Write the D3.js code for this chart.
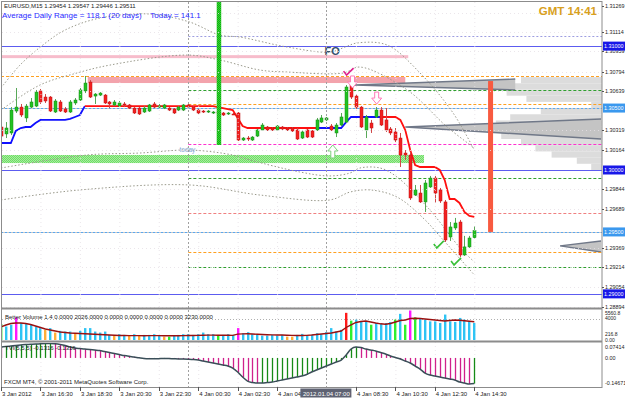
<!DOCTYPE html>
<html><head><meta charset="utf-8">
<script src="https://cdn.jsdelivr.net/npm/d3@7"></script>
<style>
html,body{margin:0;padding:0;background:#fff;}
svg{display:block;font-family:"Liberation Sans",Arial,sans-serif;}
</style></head><body>
<svg id="c" width="625" height="398"></svg>
<script>
// ---------------- DATA ----------------
const symbolTitle = "EURUSD,M15  1.29454 1.29547 1.29446 1.29511";
const adrText = "Average Daily Range = 118.1 (20 days)    Today = 141.1";
const clockText = "GMT 14:41";
const volHeader = "Better Volume 1.4 0.0000 2026.0000 0.0000 0.0000 0.0000 0.0000 3230.0000";
const tviHeader = "TVI(5,5,5) -0.1316 -0.1316";
const copyright = "FXCM MT4, \u00a9 2001-2011 MetaQuotes Software Corp.";

const open = [1.30347,1.30291,1.30299,1.30476,1.30508,1.30420,1.30508,1.30516,1.30638,1.30589,
1.30589,1.30468,1.30549,1.30492,1.30468,1.30541,1.30565,1.30638,1.30710,1.30597,
1.30605,1.30605,1.30549,1.30525,1.30516,1.30533,1.30525,1.30500,1.30500,1.30468,
1.30476,1.30533,1.30508,1.30500,1.30500,1.30492,1.30484,1.30484,1.30525,1.30508,
1.30484,1.30476,1.30468,1.30460,1.30468,1.30460,1.30452,1.30452,1.30460,1.30242,
1.30258,1.30242,1.30274,1.30323,1.30347,1.30339,1.30323,1.30347,1.30339,1.30339,
1.30323,1.30258,1.30323,1.30315,1.30323,1.30387,1.30404,1.30355,1.30299,1.30363,
1.30387,1.30686,1.30597,1.30508,1.30323,1.30379,1.30428,1.30484,1.30404,1.30331,
1.30307,1.30258,1.30137,1.30121,1.29798,1.29814,1.29742,1.29863,1.29935,1.29839,
1.29742,1.29459,1.29532,1.29580,1.29314,1.29379,1.29454];
const high = [1.30371,1.30387,1.30508,1.30662,1.30533,1.30533,1.30581,1.30646,1.30654,1.30613,
1.30597,1.30573,1.30565,1.30508,1.30565,1.30581,1.30662,1.30759,1.30726,1.30621,
1.30629,1.30613,1.30557,1.30565,1.30557,1.30549,1.30533,1.30508,1.30508,1.30516,
1.30533,1.30549,1.30533,1.30533,1.30508,1.30500,1.30516,1.30533,1.30533,1.30516,
1.30492,1.30484,1.30484,1.30476,1.30476,1.30468,1.30468,1.30460,1.30468,1.30266,
1.30274,1.30274,1.30331,1.30379,1.30355,1.30347,1.30363,1.30355,1.30347,1.30347,
1.30339,1.30323,1.30331,1.30323,1.30420,1.30444,1.30428,1.30371,1.30379,1.30460,
1.30686,1.30702,1.30613,1.30516,1.30444,1.30404,1.30508,1.30508,1.30500,1.30347,
1.30339,1.30299,1.30161,1.30145,1.29879,1.29879,1.29919,1.29952,1.29952,1.29855,
1.29758,1.29580,1.29613,1.29597,1.29468,1.29468,1.29547];
const low = [1.30242,1.30258,1.30282,1.30460,1.30428,1.30387,1.30500,1.30508,1.30533,1.30541,
1.30468,1.30460,1.30468,1.30460,1.30460,1.30525,1.30557,1.30621,1.30581,1.30533,
1.30597,1.30533,1.30500,1.30516,1.30508,1.30508,1.30492,1.30452,1.30444,1.30460,
1.30468,1.30500,1.30500,1.30492,1.30476,1.30452,1.30476,1.30476,1.30500,1.30476,
1.30452,1.30460,1.30460,1.30452,1.30460,1.30436,1.30444,1.30444,1.30234,1.30234,
1.30234,1.30234,1.30266,1.30315,1.30315,1.30315,1.30315,1.30323,1.30315,1.30307,
1.30242,1.30250,1.30258,1.30258,1.30315,1.30379,1.30395,1.30315,1.30266,1.30355,
1.30379,1.30573,1.30492,1.30339,1.30258,1.30299,1.30420,1.30355,1.30307,1.30282,
1.30226,1.30024,1.30081,1.29758,1.29790,1.29734,1.29661,1.29855,1.29734,1.29734,
1.29419,1.29427,1.29516,1.29298,1.29306,1.29371,1.29446];
const close = [1.30274,1.30339,1.30484,1.30508,1.30444,1.30516,1.30549,1.30629,1.30549,1.30557,
1.30476,1.30557,1.30476,1.30468,1.30549,1.30565,1.30646,1.30702,1.30589,1.30613,
1.30621,1.30541,1.30533,1.30549,1.30541,1.30525,1.30500,1.30460,1.30452,1.30500,
1.30525,1.30508,1.30516,1.30525,1.30484,1.30460,1.30508,1.30525,1.30508,1.30484,
1.30460,1.30468,1.30476,1.30468,1.30465,1.30444,1.30460,1.30450,1.30242,1.30258,
1.30250,1.30266,1.30323,1.30363,1.30323,1.30323,1.30355,1.30331,1.30323,1.30315,
1.30250,1.30307,1.30266,1.30266,1.30404,1.30420,1.30420,1.30323,1.30363,1.30428,
1.30670,1.30589,1.30508,1.30347,1.30428,1.30339,1.30484,1.30363,1.30323,1.30299,
1.30242,1.30121,1.30121,1.29774,1.29839,1.29742,1.29895,1.29935,1.29814,1.29750,
1.29435,1.29540,1.29572,1.29314,1.29379,1.29451,1.29511];

const trail = [1.30218,1.30218,1.30218,1.30315,1.30339,1.30347,1.30347,1.30379,1.30404,1.30404,
1.30404,1.30404,1.30404,1.30404,1.30412,1.30428,1.30444,1.30516,1.30516,1.30516,
1.30516,1.30516,1.30516,1.30516,1.30516,1.30516,1.30516,1.30516,1.30516,1.30516,
1.30516,1.30516,1.30516,1.30516,1.30516,1.30516,1.30516,1.30516,1.30516,1.30516,
1.30516,1.30516,1.30516,1.30516,1.30508,1.30500,1.30492,1.30484,1.30420,1.30355,
1.30339,1.30339,1.30339,1.30339,1.30339,1.30339,1.30339,1.30339,1.30339,1.30339,
1.30339,1.30339,1.30339,1.30339,1.30339,1.30339,1.30339,1.30339,1.30339,1.30339,
1.30387,1.30428,1.30428,1.30428,1.30428,1.30428,1.30428,1.30428,1.30428,1.30428,
1.30428,1.30404,1.30323,1.30161,1.30040,1.30024,1.30024,1.30024,1.30024,1.30000,
1.29919,1.29766,1.29766,1.29734,1.29661,1.29629,1.29621];
const trendSegments = [[0,17,"up"],[17,64,"down"],[64,77,"up"],[77,96,"down"]];

const bandUpperOuter = [[0,1.30662],[3.85,1.30847],[8.5,1.31009],[13,1.31130],[20.1,1.31227],[30.2,1.31259],[38.3,1.31194],[44.4,1.31089],[48.5,1.31073],[58,1.30993],[66.7,1.30952],[69.8,1.30993],[72.2,1.31025],[78.3,1.31009],[85,1.30783],[91.7,1.30460],[96,1.30161]];
const bandUpperInner = [[0,1.30484],[7.9,1.30686],[15.4,1.30783],[22.1,1.30847],[37.7,1.30928],[44.4,1.30888],[52.5,1.30807],[58,1.30791],[69.4,1.30783],[72.8,1.30831],[82.4,1.30646],[90.5,1.30347],[96,1.30178]];
const bandLowerInner = [[0,1.30016],[17.4,1.30121],[28.2,1.30137],[38.3,1.30161],[47,1.30121],[50.5,1.30081],[60.6,1.29984],[66.7,1.29952],[70.8,1.29976],[72.8,1.30016],[76.9,1.30016],[80.3,1.29944],[87,1.29677],[93.1,1.29371],[96,1.29258]];
const bandLowerOuter = [[0,1.29758],[16,1.29839],[38.3,1.29879],[52.5,1.29798],[66.7,1.29758],[70.8,1.29822],[74.9,1.29839],[80.3,1.29782],[85.6,1.29613],[89.7,1.29435],[96,1.29153]];

const volume = [3010,2550,2876,4276,3202,3010,2876,2550,2243,1918,
2243,1400,1726,1592,1592,1285,1726,2243,2243,1592,
1400,1592,959,825,1093,959,825,1093,825,959,
959,1093,767,633,633,825,959,1093,1093,959,
1093,1400,1093,1093,959,959,1093,959,2243,1285,
1476,1093,959,825,825,959,825,959,633,633,
959,1150,863,959,1285,1093,1476,2243,1592,1918,
5120,3643,3835,3509,3394,2876,3202,3010,3202,3394,
3835,4928,2876,5560.8,4276,4161,3835,3509,3509,3202,
4794,3509,3394,4161,3835,3509,3202];
const volumeType = ("gssmssssso"+"sosssossss"+"sssossosos"+"sssogsssss"+"ssssgsssms"+
"ssssssssoo"+"ssssssssss"+"rgsssgssss"+"gsgmgsssss"+"sssssss").split("");
const volumeAvg = [2450,2828,3110,3205,3205,3110,2922,2639,2356,2074,
1885,1697,1508,1414,1320,1263,1225,1169,1131,1093,
1037,980,943,905,848,840,830,825,820,815,
820,830,820,800,790,800,810,830,850,860,
870,900,910,910,900,890,890,880,1100,1150,
1180,1120,1080,1030,990,960,940,930,900,870,
860,850,880,940,1040,1130,1230,1320,1510,1700,
2360,2830,3300,3490,3580,3390,3205,3050,2980,3110,
3390,3680,3770,4050,4090,4050,3960,3860,3770,3680,
3580,3680,3770,3710,3620,3540,3450];
const volLevel = 4000;

const tvi = [0.0560,0.0586,0.0611,0.0637,0.0663,0.0688,0.0699,0.0714,0.0725,0.0735,
0.0741,0.0725,0.0690,0.0637,0.0560,0.0509,0.0483,0.0457,0.0432,0.0406,
0.0380,0.0329,0.0277,0.0226,0.0175,0.0123,0.0082,0.0046,0.0005,-0.0031,
-0.0041,-0.0041,-0.0036,-0.0026,-0.0031,-0.0041,-0.0051,-0.0056,-0.0067,-0.0082,
-0.0108,-0.0159,-0.0210,-0.0262,-0.0313,-0.0365,-0.0416,-0.0519,-0.0724,-0.0981,
-0.1187,-0.1264,-0.1290,-0.1290,-0.1264,-0.1238,-0.1187,-0.1135,-0.1084,-0.1033,
-0.0981,-0.0930,-0.0853,-0.0724,-0.0622,-0.0519,-0.0416,-0.0313,-0.0211,-0.0108,
0.0149,0.0457,0.0560,0.0534,0.0457,0.0406,0.0355,0.0277,0.0200,0.0097,
0.0021,-0.0056,-0.0159,-0.0262,-0.0416,-0.0570,-0.0776,-0.0878,-0.0930,-0.0981,
-0.1033,-0.1084,-0.1135,-0.1238,-0.1290,-0.1341,-0.1316];

const priceTicks = [1.31269,1.31114,1.30959,1.30794,1.30639,1.30319,1.30164,1.29844,1.29689,1.29369,1.29214,1.29054,1.28894];
const roundLevels = [1.31000,1.30500,1.30000,1.29500,1.29000];
const roundKinds = ["major","half","major","half","major"];
const volTicks = ["5560.8","4000","216.8","0.00"];
const volTickValues = [5560.8,4000,216.8,0];
const tviTicks = [0.07414,0,-0.14671];
const tviTickLabels = ["0.07414","0.00","-0.14671"];

const timeBars = [0,8,16,24,32,40,48,56,72,80,88,96];
const timeLabels = ["3 Jan 2012","3 Jan 16:30","3 Jan 18:30","3 Jan 20:30","3 Jan 22:30","4 Jan 00:30","4 Jan 02:30","4 Jan 04:30","4 Jan 08:30","4 Jan 10:30","4 Jan 12:30","4 Jan 14:30"];
const cursorBar = 66, cursorLabel = "2012.01.04 07:00";
const dayStartBar = 38;

const levelPrices = [1.31079,1.30759,1.30646,1.30533,1.30500,1.30210,1.29935,1.29653,1.29500,1.29338,1.29217];
const levelFrom   = [38,0,38,38,0,38,38,38,0,38,38];
const levelKinds  = ["lav","orange","green","orange","blue","magenta","green","salmon","blue","orange","green"];

const zones = [[0,82.6,1.30927,1.30903,"pink"],[17.6,82,1.30751,1.30702,"salmon"],[0,85.8,1.30121,1.30056,"green"]];

const profilePrices = [1.30750,1.30700,1.30650,1.30600,1.30550,1.30500,1.30450,1.30400,1.30350,1.30300,1.30250,1.30200,1.30150,1.30100,1.30050];
const profileCounts = [45,53,53,42,6,34,51,59,64,56,45,37,28,14,6];

const wedges = [
  [[71.8,1.30686],[104.3,1.30734],[104.3,1.30646]],
  [[82,1.30347],[121.7,1.30412],[121.7,1.30250]],
  [[113.4,1.29387],[121.7,1.29427],[121.7,1.29338]]
];
const greenBar = {bar:44.2, from:1.31356, to:1.30202};
const redBar = {bar:99.3, from:1.30718, to:1.29500};

const downArrows = [[71.3,1.30759],[76.2,1.30629]];
const upArrows = [[67.3,1.30202]];
const checksMagenta = [[70.5,1.30790]];
const checksGreen = [[88.8,1.29395],[92.3,1.29258]];
const foLabel = {bar:65.6, price:1.30928, text:"FO"};
const todayLabel = {bar:36.2, price:1.30145, text:"today"};

// ---------------- CHART ----------------
const svg = d3.select("#c");
const R = 602;
const x = d3.scaleLinear().domain([0,96]).range([1,474.3]);
const y = d3.scaleLinear().domain([1.28894,1.31114]).range([307,32]);
const yv = d3.scaleLinear().domain([0,5560.8]).range([340,310.5]);
const yt = d3.scaleLinear().domain([-0.14671,0.07414]).range([386.5,343.5]);
const wProf = d3.scaleLinear().domain([0,1]).range([0,1.8]);

svg.append("rect").attr("width",625).attr("height",398).attr("fill","#fff");
const defs = svg.append("defs");
defs.append("clipPath").attr("id","cm").append("rect").attr("x",2).attr("y",2).attr("width",R-2).attr("height",306);
defs.append("clipPath").attr("id","cv").append("rect").attr("x",2).attr("y",310).attr("width",R-2).attr("height",31);
defs.append("clipPath").attr("id","ct").append("rect").attr("x",2).attr("y",343).attr("width",R-2).attr("height",44);
const pg = defs.append("pattern").attr("id","hatchG").attr("width",2).attr("height",2).attr("patternUnits","userSpaceOnUse");
pg.append("rect").attr("width",2).attr("height",2).attr("fill","#a6ee9e");
pg.append("rect").attr("width",1).attr("height",1).attr("fill","#6fdc66");
pg.append("rect").attr("x",1).attr("y",1).attr("width",1).attr("height",1).attr("fill","#6fdc66");
const pg2 = defs.append("pattern").attr("id","hatchV").attr("width",2).attr("height",2).attr("patternUnits","userSpaceOnUse");
pg2.append("rect").attr("width",2).attr("height",2).attr("fill","#35d235");
pg2.append("rect").attr("width",1).attr("height",1).attr("fill","#10b010");
pg2.append("rect").attr("x",1).attr("y",1).attr("width",1).attr("height",1).attr("fill","#10b010");

const main = svg.append("g").attr("clip-path","url(#cm)");

const grid = svg.append("g").attr("stroke","#e6e0e6").attr("stroke-dasharray","1,3").attr("stroke-width",0.8);
timeBars.forEach(b=>{ grid.append("line").attr("x1",x(b)+0.5).attr("x2",x(b)+0.5).attr("y1",2).attr("y2",387); });
priceTicks.forEach(p=>{ grid.append("line").attr("x1",2).attr("x2",R).attr("y1",Math.round(y(p))+0.5).attr("y2",Math.round(y(p))+0.5); });

const zoneFill = {pink:"#f7bccb", salmon:"#f3a3ac", green:"url(#hatchG)"};
zones.forEach(z=>{
  main.append("rect").attr("x",x(z[0])).attr("width",x(z[1])-x(z[0]))
    .attr("y",y(z[2])).attr("height",y(z[3])-y(z[2])).attr("fill",zoneFill[z[4]]);
});

profilePrices.forEach((p,i)=>{
  const h = y(p - 0.0005) - y(p);
  main.append("rect").attr("x",R - wProf(profileCounts[i])).attr("width",wProf(profileCounts[i]))
    .attr("y",y(p)).attr("height",h).attr("fill","#dcdcdc");
});
wedges.forEach(w=>{
  const pts = w.map(d=>[x(d[0]),y(d[1])]);
  main.append("path").attr("d",d3.line()(pts)+"Z").attr("fill","#c4c4c4").attr("stroke","none");
  main.append("path").attr("d",d3.line()([pts[1],pts[0],pts[2]])).attr("fill","none").attr("stroke","#707888").attr("stroke-width",1.4);
});

const levelStyle = {lav:["#9d9de0","2,2"],orange:["#ffa020","3,2"],green:["#2ea02e","3,2"],blue:["#5aa8f0","2,2"],magenta:["#ff30d0","3,2"],salmon:["#f08080","3,2"]};
levelPrices.forEach((p,i)=>{
  const st = levelStyle[levelKinds[i]];
  const yy = Math.round(y(p))+0.5;
  if(levelKinds[i]==="blue") main.append("line").attr("x1",2).attr("x2",R).attr("y1",yy).attr("y2",yy).attr("stroke","#c8c8c8").attr("stroke-width",1);
  main.append("line").attr("x1",x(levelFrom[i])).attr("x2",R).attr("y1",yy).attr("y2",yy)
    .attr("stroke",st[0]).attr("stroke-width",1).attr("stroke-dasharray",st[1]);
});
roundLevels.forEach((p,i)=>{
  if(roundKinds[i]!=="major") return;
  const yy = Math.round(y(p))+0.5;
  main.append("line").attr("x1",2).attr("x2",R).attr("y1",yy).attr("y2",yy).attr("stroke","#5c5cf0").attr("stroke-width",1.2);
});

const bandLine = d3.line().x(d=>x(d[0])).y(d=>y(d[1])).curve(d3.curveCatmullRom);
[bandUpperOuter,bandUpperInner,bandLowerInner,bandLowerOuter].forEach(b=>{
  main.append("path").attr("d",bandLine(b)).attr("fill","none").attr("stroke","#9a9a8c").attr("stroke-width",1).attr("stroke-dasharray","1.5,2");
});

[dayStartBar,cursorBar].forEach(b=>{
  svg.append("line").attr("x1",Math.round(x(b))+0.5).attr("x2",Math.round(x(b))+0.5).attr("y1",2).attr("y2",387)
    .attr("stroke","#a0a0a0").attr("stroke-dasharray","2,2").attr("stroke-width",1);
});

trendSegments.forEach(s=>{
  const pts = d3.range(s[0],s[1]+1).map(i=>[x(i),y(trail[i])]);
  main.append("path").attr("d",d3.line()(pts)).attr("fill","none")
    .attr("stroke", s[2]==="up" ? "#1010ff" : "#ff1010").attr("stroke-width",1.8);
});

const cg = main.append("g");
open.forEach((o,i)=>{
  const c = close[i], up = c>=o;
  const cx = Math.round(x(i))+0.5;
  cg.append("line").attr("x1",cx).attr("x2",cx).attr("y1",y(high[i])).attr("y2",y(low[i]))
    .attr("stroke", up ? "#58a858" : "#d04848").attr("stroke-width",1);
  const top = y(Math.max(o,c)), bot = y(Math.min(o,c));
  cg.append("rect").attr("x",cx-1.5).attr("width",3).attr("y",top).attr("height",Math.max(1,bot-top))
    .attr("fill", up ? "#22c222" : "#f22020").attr("stroke", up ? "#168a16" : "#c01010").attr("stroke-width",0.5);
});

main.append("rect").attr("x",x(greenBar.bar)-2.2).attr("width",4.5).attr("y",y(greenBar.from)).attr("height",y(greenBar.to)-y(greenBar.from)).attr("fill","url(#hatchV)");
main.append("rect").attr("x",x(redBar.bar)-2.5).attr("width",5).attr("y",y(redBar.from)).attr("height",y(redBar.to)-y(redBar.from)).attr("fill","#f85a40");

downArrows.forEach(a=>{
  const cx=x(a[0]), t=y(a[1]);
  main.append("path").attr("d",`M${cx-2},${t}L${cx+2},${t}L${cx+2},${t+6}L${cx+5},${t+6}L${cx},${t+12}L${cx-5},${t+6}L${cx-2},${t+6}Z`)
    .attr("fill","#fff").attr("stroke","#ff7ab8").attr("stroke-width",1);
});
upArrows.forEach(a=>{
  const cx=x(a[0]), t=y(a[1]);
  main.append("path").attr("d",`M${cx},${t}L${cx+5},${t+6}L${cx+2},${t+6}L${cx+2},${t+13}L${cx-2},${t+13}L${cx-2},${t+6}L${cx-5},${t+6}Z`)
    .attr("fill","#fff").attr("stroke","#7cd07c").attr("stroke-width",1);
});
const check = (b,p,col)=>{
  const cx=x(b), cy=y(p);
  main.append("path").attr("d",`M${cx-5},${cy-1}L${cx-2},${cy+3}L${cx+5},${cy-4}`).attr("fill","none").attr("stroke",col).attr("stroke-width",1.6);
};
checksMagenta.forEach(c=>check(c[0],c[1],"#e0208f"));
checksGreen.forEach(c=>check(c[0],c[1],"#38c038"));

main.append("text").attr("x",x(foLabel.bar)).attr("y",y(foLabel.price)).attr("font-size",11).attr("font-weight","bold").attr("fill","#34506c").text(foLabel.text);
main.append("text").attr("x",x(todayLabel.bar)).attr("y",y(todayLabel.price)).attr("font-size",6.5).attr("fill","#7ea6d6").text(todayLabel.text);

const vg = svg.append("g").attr("clip-path","url(#cv)");
vg.append("line").attr("x1",2).attr("x2",R).attr("y1",Math.round(yv(volLevel))+0.5).attr("y2",Math.round(yv(volLevel))+0.5).attr("stroke","#b0b0b0").attr("stroke-dasharray","1,2");
const vCol = {s:"#2ec4f4", o:"#ffae38", g:"#2ef02e", m:"#ff18ff", r:"#ff1a1a"};
volume.forEach((v,i)=>{
  vg.append("rect").attr("x",Math.round(x(i))-1).attr("width",2.4).attr("y",yv(v)).attr("height",yv(0)-yv(v)).attr("fill",vCol[volumeType[i]]);
});
vg.append("path").attr("d",d3.line().x((d,i)=>x(i)).y(d=>yv(d))(volumeAvg)).attr("fill","none").attr("stroke","#9a1010").attr("stroke-width",1.4);
svg.append("text").attr("x",5).attr("y",319).attr("font-size",6).attr("fill","#222").text(volHeader);

const tg = svg.append("g").attr("clip-path","url(#ct)");
tvi.forEach((v,i)=>{
  const upc = i>0 && v>=tvi[i-1];
  tg.append("line").attr("x1",Math.round(x(i))+0.5).attr("x2",Math.round(x(i))+0.5).attr("y1",yt(0)).attr("y2",yt(v))
    .attr("stroke", upc ? "#168a16" : "#d0208c").attr("stroke-width",1.3);
});
tg.append("path").attr("d",d3.line().x((d,i)=>x(i)).y(d=>yt(d)).curve(d3.curveMonotoneX)(tvi)).attr("fill","none").attr("stroke","#3a4e58").attr("stroke-width",1.5);
svg.append("text").attr("x",5).attr("y",350).attr("font-size",6).attr("fill","#222").text(tviHeader);
svg.append("text").attr("x",4).attr("y",384).attr("font-size",6).attr("fill","#222").text(copyright);

const fr = svg.append("g").attr("fill","none").attr("stroke","#8c8c8c");
fr.append("rect").attr("x",1.5).attr("y",1.5).attr("width",R-1.5).attr("height",386);
fr.append("line").attr("x1",1).attr("x2",R).attr("y1",308.5).attr("y2",308.5).attr("stroke-width",2);
fr.append("line").attr("x1",1).attr("x2",R).attr("y1",341.5).attr("y2",341.5).attr("stroke-width",2);

const ax = svg.append("g").attr("font-size",5.4).attr("fill","#222");
priceTicks.forEach((p,i)=>{
  const yy = i===0 ? 6 : y(p);
  ax.append("line").attr("x1",R).attr("x2",R+2).attr("y1",Math.round(yy)+0.5).attr("y2",Math.round(yy)+0.5).attr("stroke","#555");
  ax.append("text").attr("x",R+3).attr("y",yy+2).text(p.toFixed(5));
});
roundLevels.forEach((p,i)=>{
  const yy=y(p);
  ax.append("rect").attr("x",R+1).attr("y",yy-4.5).attr("width",22).attr("height",9).attr("fill", roundKinds[i]==="major" ? "#1818e8" : "#3a98ee");
  ax.append("text").attr("x",R+2).attr("y",yy+2).attr("fill","#fff").text(p.toFixed(5));
});
// volume labels (small, stacked as in the terminal)
const vt = svg.append("g").attr("font-size",5).attr("fill","#222");
volTicks.forEach((t,i)=>{
  const yy = [313,318.5,334.5,340][i];
  vt.append("text").attr("x",R+3).attr("y",yy+1.8).text(t);
});
tviTicks.forEach((t,i)=>{
  const yy = i===0 ? 346.5 : (i===2 ? 383 : yt(t));
  ax.append("text").attr("x",R+3).attr("y",yy+2).text(tviTickLabels[i]);
});

const tx = svg.append("g").attr("font-size",6).attr("fill","#222");
timeBars.forEach((b,i)=>{
  tx.append("line").attr("x1",Math.round(x(b))+0.5).attr("x2",Math.round(x(b))+0.5).attr("y1",387).attr("y2",391).attr("stroke","#555");
  tx.append("text").attr("x",x(b)+1).attr("y",395.5).text(timeLabels[i]);
});
tx.append("rect").attr("x",x(cursorBar)-26).attr("y",388.5).attr("width",51).attr("height",9).attr("fill","#5e6272");
tx.append("text").attr("x",x(cursorBar)).attr("y",395.5).attr("text-anchor","middle").attr("fill","#fff").text(cursorLabel);

svg.append("text").attr("x",4).attr("y",8).attr("font-size",6).attr("fill","#222").text(symbolTitle);
svg.append("text").attr("x",2).attr("y",18).attr("font-size",8).attr("fill","#2a2aff").style("white-space","pre").text(adrText);
svg.append("text").attr("x",597).attr("y",15).attr("text-anchor","end").attr("font-size",11.5).attr("font-weight","bold").attr("fill","#d8a020").text(clockText);
</script>
</body></html>
